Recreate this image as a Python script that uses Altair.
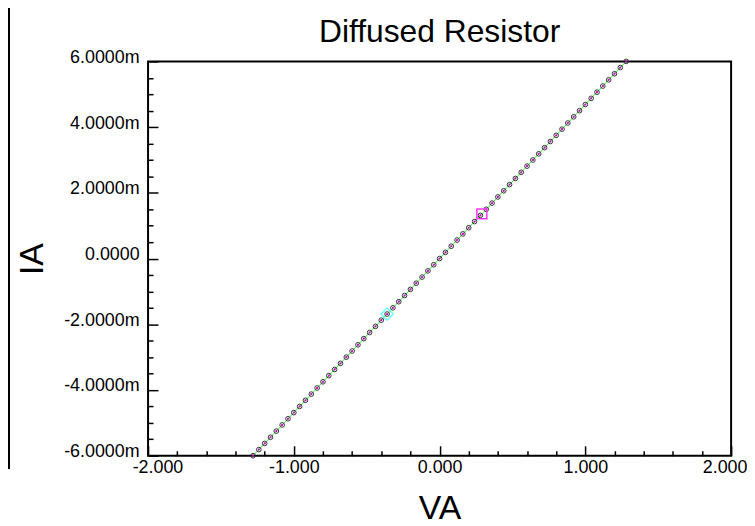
import altair as alt
import pandas as pd

# Sweep data (VA in volts, IA in milliamps)
V = [-1.28, -1.24, -1.20, -1.16, -1.12, -1.08, -1.04, -1.00, -0.96, -0.92,
     -0.88, -0.84, -0.80, -0.76, -0.72, -0.68, -0.64, -0.60, -0.56, -0.52,
     -0.48, -0.44, -0.40, -0.36, -0.32, -0.28, -0.24, -0.20, -0.16, -0.12,
     -0.08, -0.04, 0.00, 0.04, 0.08, 0.12, 0.16, 0.20, 0.24, 0.28,
     0.32, 0.36, 0.40, 0.44, 0.48, 0.52, 0.56, 0.60, 0.64, 0.68,
     0.72, 0.76, 0.80, 0.84, 0.88, 0.92, 0.96, 1.00, 1.04, 1.08,
     1.12, 1.16, 1.20, 1.24, 1.28]
I_mA = [-6.000, -5.813, -5.625, -5.438, -5.250, -5.063, -4.875, -4.688, -4.500, -4.313,
        -4.125, -3.938, -3.750, -3.563, -3.375, -3.188, -3.000, -2.813, -2.625, -2.438,
        -2.250, -2.063, -1.875, -1.688, -1.500, -1.313, -1.125, -0.938, -0.750, -0.563,
        -0.375, -0.188, 0.000, 0.188, 0.375, 0.563, 0.750, 0.938, 1.125, 1.313,
        1.500, 1.688, 1.875, 2.063, 2.250, 2.438, 2.625, 2.813, 3.000, 3.188,
        3.375, 3.563, 3.750, 3.938, 4.125, 4.313, 4.500, 4.688, 4.875, 5.063,
        5.250, 5.438, 5.625, 5.813, 6.000]

# Cursor markers
cursor_V = [-0.36, 0.29]
cursor_I = [-1.69, 1.36]
cursor_shape = ["diamond", "square"]
cursor_color = ["#66ffff", "#ff33ff"]
cursor_size = [150, 100]

# Tick values
x_major = [-2, -1, 0, 1, 2]
x_minor = [-1.8, -1.6, -1.4, -1.2, -0.8, -0.6, -0.4, -0.2,
           0.2, 0.4, 0.6, 0.8, 1.2, 1.4, 1.6, 1.8]
y_major = [-6, -4, -2, 0, 2, 4, 6]
y_minor = [-5.5, -5, -4.5, -3.5, -3, -2.5, -1.5, -1, -0.5,
           0.5, 1, 1.5, 2.5, 3, 3.5, 4.5, 5, 5.5]

df = pd.DataFrame({"VA": V, "IA": I_mA})
cur = pd.DataFrame({"VA": cursor_V, "IA": cursor_I, "shape": cursor_shape,
                    "color": cursor_color, "size": cursor_size})

FONT = "Liberation Sans"
W, H = 587, 397
xs = alt.Scale(domain=[-2, 2], nice=False, zero=False)
ys = alt.Scale(domain=[-6, 6], nice=False, zero=False)

x_major_axis = alt.Axis(
    orient="bottom", values=x_major, offset=-10, tickSize=10, tickWidth=1.5,
    tickColor="black", domain=False, grid=False, labelPadding=3,
    labelFont=FONT, labelFontSize=18, labelColor="black", labelFlush=True,
    labelFlushOffset=16, labelOverlap=False,
    labelExpr="(datum.value < 0 ? '-' : '') + format(abs(datum.value), '.3f')",
    title="VA", titleFont=FONT, titleFontSize=34, titleFontWeight="normal",
    titleColor="black", titleX=W / 2, titleY=73, titleAlign="center",
    titleBaseline="alphabetic")
x_minor_axis = alt.Axis(
    orient="bottom", values=x_minor, offset=-5, tickSize=5, tickWidth=1.5,
    tickColor="black", domain=False, grid=False, labels=False, title="")

y_major_axis = alt.Axis(
    orient="left", values=y_major, offset=-10, tickSize=10, tickWidth=1.5,
    tickColor="black", domain=False, grid=False, labelPadding=9,
    labelFont=FONT, labelFontSize=18, labelColor="black", labelFlush=False,
    labelOverlap=False, labelOffset=-4,
    labelExpr="datum.value == 0 ? '0.0000' : (datum.value < 0 ? '-' : '') + format(abs(datum.value), '.4f') + 'm'",
    title="IA", titleFont=FONT, titleFontSize=34, titleFontWeight="normal",
    titleColor="black", titleX=-116, titleY=H / 2, titleAlign="center",
    titleBaseline="alphabetic", titleAngle=270)
y_minor_axis = alt.Axis(
    orient="left", values=y_minor, offset=-5, tickSize=5, tickWidth=1.5,
    tickColor="black", domain=False, grid=False, labels=False, title="")

line = alt.Chart(df).mark_line(color="#33ee33", strokeWidth=1).encode(
    x=alt.X("VA:Q", scale=xs, axis=x_major_axis),
    y=alt.Y("IA:Q", scale=ys, axis=y_major_axis))

mag = alt.Chart(df).mark_point(shape="circle", filled=True, color="#cc00cc",
                               size=5, opacity=1).encode(
    x=alt.X("VA:Q", scale=xs, axis=x_minor_axis),
    y=alt.Y("IA:Q", scale=ys, axis=y_minor_axis))

pts = alt.Chart(df).mark_point(shape="circle", filled=False, color="#333333",
                               strokeWidth=1, size=22, opacity=1).encode(
    x=alt.X("VA:Q", scale=xs, axis=None),
    y=alt.Y("IA:Q", scale=ys, axis=None))

cursors = alt.Chart(cur).mark_point(filled=False, strokeWidth=1.5,
                                    opacity=1).encode(
    x=alt.X("VA:Q", scale=xs, axis=None),
    y=alt.Y("IA:Q", scale=ys, axis=None),
    shape=alt.Shape("shape:N", scale=None),
    stroke=alt.Stroke("color:N", scale=None),
    size=alt.Size("size:Q", scale=None))

border = alt.Chart(df).mark_rule(color="black", strokeWidth=1.5).encode(
    x=alt.value(-140), y=alt.value(-60), y2=alt.value(410))

chart = alt.layer(line, mag, pts, cursors, border).resolve_axis(
    x="independent", y="independent"
).properties(
    width=W, height=H,
    title=alt.Title("Diffused Resistor", font=FONT, fontSize=32,
                    fontWeight="normal", color="black", anchor="middle",
                    frame="group", baseline="alphabetic", offset=-73),
    autosize=alt.AutoSizeParams(type="none"),
    padding={"left": 141, "top": 52, "right": 16, "bottom": 70},
).configure_view(stroke="black", strokeWidth=2)

chart.save("out.html", embed_options={"renderer": "svg", "actions": False})
